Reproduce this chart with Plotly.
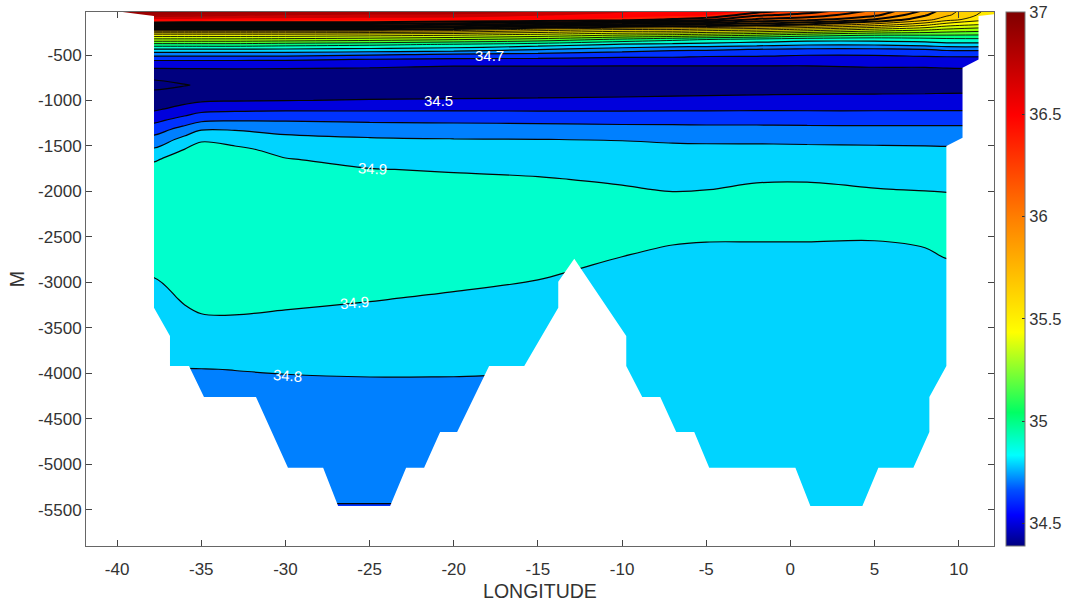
import plotly.graph_objects as go

FONT = "Liberation Sans"

longitudes = [-40.3, -37.8, -36, -35, -33, -30, -25, -20, -15, -10, -7, -5, -2, 1, 5, 8, 9.3, 12.2]
depths = [0, -60, -110, -165, -220, -275, -330, -385, -440, -495, -550, -604, -659, -775, -830, -885,
          -999, -1099, -1219, -1319, -1429, -1539, -1648, -1758, -1868, -1978, -2088, -2198, -2528,
          -2857, -3187, -3517, -3846, -3956, -4066, -5429, -5479]

# salinity, one row per depth
salinity = [
    [37.0, 37.0, 36.95, 36.9, 36.85, 36.8, 36.75, 36.75, 36.65, 36.55, 36.5, 36.45, 36.4, 36.3, 36.1, 35.9, 35.75, 35.55],
    [36.713, 36.713, 36.687, 36.661, 36.635, 36.609, 36.583, 36.575, 36.519, 36.463, 36.435, 36.413, 36.224, 36.157, 36.027, 35.812, 35.718, 35.524],
    [36.478, 36.478, 36.472, 36.465, 36.459, 36.452, 36.446, 36.432, 36.412, 36.36, 36.28, 36.233, 36.08, 36.039, 35.893, 35.74, 35.64, 35.502],
    [36.167, 36.167, 36.167, 36.167, 36.167, 36.167, 36.167, 36.109, 36.04, 35.963, 35.91, 35.9, 35.85, 35.79, 35.667, 35.533, 35.45, 35.378],
    [35.813, 35.813, 35.813, 35.813, 35.813, 35.813, 35.813, 35.767, 35.667, 35.6, 35.6, 35.567, 35.533, 35.471, 35.375, 35.32, 35.283, 35.243],
    [35.479, 35.479, 35.479, 35.479, 35.479, 35.478, 35.457, 35.432, 35.386, 35.325, 35.306, 35.278, 35.235, 35.176, 35.125, 35.12, 35.117, 35.108],
    [35.271, 35.271, 35.271, 35.271, 35.271, 35.261, 35.239, 35.205, 35.159, 35.075, 35.028, 35.0, 34.971, 34.943, 34.938, 34.956, 34.97, 34.978],
    [35.062, 35.062, 35.062, 35.062, 35.062, 35.043, 35.022, 34.987, 34.95, 34.887, 34.871, 34.857, 34.837, 34.812, 34.812, 34.837, 34.862, 34.862],
    [34.883, 34.883, 34.883, 34.883, 34.883, 34.883, 34.867, 34.85, 34.8, 34.75, 34.717, 34.714, 34.693, 34.679, 34.679, 34.693, 34.717, 34.717],
    [34.737, 34.737, 34.737, 34.737, 34.737, 34.737, 34.714, 34.688, 34.67, 34.642, 34.636, 34.625, 34.621, 34.607, 34.607, 34.621, 34.625, 34.625],
    [34.613, 34.613, 34.613, 34.613, 34.613, 34.613, 34.593, 34.579, 34.579, 34.569, 34.569, 34.561, 34.561, 34.555, 34.559, 34.565, 34.568, 34.571],
    [34.544, 34.544, 34.544, 34.544, 34.544, 34.536, 34.521, 34.507, 34.507, 34.506, 34.506, 34.506, 34.506, 34.505, 34.514, 34.515, 34.523, 34.529],
    [34.487, 34.487, 34.491, 34.492, 34.494, 34.492, 34.489, 34.486, 34.486, 34.486, 34.486, 34.486, 34.486, 34.486, 34.489, 34.489, 34.492, 34.495],
    [34.4, 34.4, 34.426, 34.436, 34.451, 34.457, 34.456, 34.455, 34.455, 34.455, 34.455, 34.455, 34.455, 34.455, 34.456, 34.456, 34.457, 34.458],
    [34.37, 34.37, 34.395, 34.41, 34.43, 34.44, 34.44, 34.44, 34.44, 34.44, 34.44, 34.44, 34.44, 34.44, 34.44, 34.44, 34.44, 34.44],
    [34.4, 34.4, 34.42, 34.435, 34.451, 34.459, 34.46, 34.461, 34.461, 34.463, 34.465, 34.467, 34.47, 34.473, 34.475, 34.477, 34.48, 34.483],
    [34.447, 34.447, 34.472, 34.487, 34.493, 34.498, 34.504, 34.508, 34.512, 34.518, 34.524, 34.529, 34.534, 34.538, 34.539, 34.541, 34.543, 34.544],
    [34.489, 34.489, 34.535, 34.568, 34.579, 34.585, 34.586, 34.587, 34.587, 34.588, 34.589, 34.59, 34.591, 34.591, 34.591, 34.592, 34.592, 34.592],
    [34.576, 34.576, 34.644, 34.683, 34.694, 34.694, 34.685, 34.682, 34.678, 34.672, 34.672, 34.67, 34.67, 34.667, 34.667, 34.667, 34.667, 34.667],
    [34.654, 34.654, 34.739, 34.794, 34.794, 34.771, 34.754, 34.745, 34.741, 34.734, 34.732, 34.729, 34.729, 34.726, 34.725, 34.724, 34.724, 34.724],
    [34.735, 34.735, 34.832, 34.879, 34.859, 34.827, 34.811, 34.804, 34.801, 34.797, 34.791, 34.788, 34.786, 34.783, 34.781, 34.778, 34.776, 34.776],
    [34.811, 34.811, 34.901, 34.963, 34.922, 34.869, 34.842, 34.834, 34.828, 34.821, 34.816, 34.816, 34.818, 34.817, 34.814, 34.812, 34.811, 34.811],
    [34.895, 34.895, 34.921, 34.96, 34.927, 34.905, 34.873, 34.863, 34.855, 34.843, 34.836, 34.836, 34.842, 34.842, 34.836, 34.833, 34.832, 34.832],
    [34.915, 34.915, 34.941, 34.96, 34.947, 34.925, 34.903, 34.893, 34.882, 34.866, 34.855, 34.857, 34.865, 34.867, 34.858, 34.854, 34.852, 34.852],
    [34.935, 34.935, 34.96, 34.96, 34.96, 34.945, 34.923, 34.915, 34.907, 34.888, 34.874, 34.877, 34.889, 34.891, 34.879, 34.874, 34.872, 34.872],
    [34.955, 34.955, 34.961, 34.961, 34.961, 34.96, 34.943, 34.935, 34.927, 34.909, 34.893, 34.897, 34.92, 34.923, 34.903, 34.895, 34.893, 34.893],
    [34.961, 34.961, 34.962, 34.962, 34.962, 34.961, 34.96, 34.955, 34.947, 34.929, 34.925, 34.952, 34.957, 34.958, 34.958, 34.931, 34.917, 34.917],
    [34.963, 34.963, 34.962, 34.962, 34.962, 34.962, 34.961, 34.961, 34.961, 34.949, 34.965, 34.964, 34.963, 34.962, 34.964, 34.966, 34.942, 34.942],
    [34.964, 34.964, 34.965, 34.964, 34.964, 34.964, 34.964, 34.965, 34.967, 34.929, 34.908, 34.904, 34.904, 34.904, 34.902, 34.912, 34.932, 34.932],
    [34.914, 34.914, 34.959, 34.966, 34.966, 34.967, 34.954, 34.938, 34.918, 34.879, 34.865, 34.859, 34.857, 34.856, 34.857, 34.869, 34.882, 34.882],
    [34.864, 34.864, 34.909, 34.924, 34.926, 34.918, 34.904, 34.887, 34.867, 34.833, 34.832, 34.832, 34.832, 34.832, 34.832, 34.833, 34.833, 34.833],
    [34.826, 34.826, 34.859, 34.874, 34.876, 34.867, 34.854, 34.837, 34.828, 34.831, 34.831, 34.831, 34.831, 34.831, 34.83, 34.831, 34.831, 34.831],
    [34.806, 34.806, 34.812, 34.82, 34.823, 34.82, 34.817, 34.813, 34.81, 34.829, 34.829, 34.829, 34.829, 34.829, 34.829, 34.829, 34.829, 34.829],
    [34.799, 34.799, 34.799, 34.799, 34.801, 34.805, 34.807, 34.806, 34.804, 34.829, 34.828, 34.828, 34.828, 34.828, 34.828, 34.829, 34.829, 34.829],
    [34.792, 34.792, 34.792, 34.791, 34.793, 34.795, 34.798, 34.798, 34.798, 34.828, 34.828, 34.828, 34.828, 34.828, 34.828, 34.828, 34.828, 34.828],
    [34.701, 34.701, 34.701, 34.701, 34.701, 34.701, 34.701, 34.701, 34.701, 34.82, 34.82, 34.82, 34.82, 34.82, 34.82, 34.82, 34.82, 34.82],
    [34.69, 34.69, 34.69, 34.69, 34.69, 34.69, 34.69, 34.69, 34.69, 34.82, 34.82, 34.82, 34.82, 34.82, 34.82, 34.82, 34.82, 34.82],
]

# outline of the land and sea floor, left to right
floor_lon = [-42, -39.95, -38.76, -37.81, -37.81, -36.86, -36.86, -35.73, -34.84, -31.75, -29.85, -27.76, -26.87,
             -23.78, -22.83, -21.76, -20.81, -19.8, -17.9, -15.81, -13.79, -13.79, -12.84, -9.75, -9.75, -8.8,
             -7.73, -6.78, -5.71, -4.82, 0.3, 1.19, 4.28, 5.23, 7.31, 8.26, 8.26, 9.27, 9.27, 10.23, 10.23, 11.18,
             11.18, 12.13, 12.3, 12.3, -42]
floor_depth = [-20, -20, -50, -70, -3280, -3590, -3920, -3920, -4260, -4260, -5040, -5040, -5460,
               -5460, -5040, -5040, -4645, -4645, -3920, -3920, -3280, -2995, -2740, -3590, -3920, -4260,
               -4260, -4645, -4645, -5040, -5040, -5460, -5460, -5040, -5040, -4645, -4260, -3920, -1500, -1410, -640, -550,
               -70, -50, -20, -6000, -6000]

lon_ticks = [-40, -35, -30, -25, -20, -15, -10, -5, 0, 5, 10]
lon_labels = ["-40", "-35", "-30", "-25", "-20", "-15", "-10", "-5", "0", "5", "10"]
depth_ticks = [-500, -1000, -1500, -2000, -2500, -3000, -3500, -4000, -4500, -5000, -5500]
depth_labels = ["-500", "-1000", "-1500", "-2000", "-2500", "-3000", "-3500", "-4000", "-4500", "-5000", "-5500"]
cbar_ticks = [34.5, 35, 35.5, 36, 36.5, 37]
cbar_labels = ["34.5", "35", "35.5", "36", "36.5", "37"]
cbar_range = [34.39, 37.0]

label_text = ["34.7", "34.5", "34.9", "34.9", "34.8"]
label_lon = [-17.9, -20.9, -24.8, -25.9, -29.85]
label_depth = [-500, -995, -1753, -3225, -4030]
label_angle = [0, 0, 3, -5, 4]

level_start, level_end, level_size = 34.4, 37.0, 0.1
# (first level, last level, line width): thin in the olive band, heavy where levels crowd under the surface
line_groups = [(34.4, 34.9, 1.2), (35.0, 35.7, 0.9), (35.8, 36.3, 2.0)]

colour_at = [34.35, 34.45, 34.55, 34.65, 34.75, 34.85, 34.95, 35.05, 35.2, 35.45, 36.0, 36.45, 36.6, 37.05]
colour_hex = ["#00007f", "#00007f", "#0000dc", "#0032ff", "#0080ff", "#00d4ff", "#00ffcc", "#00ff80",
              "#80ff00", "#ffff00", "#ff8000", "#ff0000", "#b00000", "#800000"]
colorscale = [[(v - colour_at[0]) / (colour_at[-1] - colour_at[0]), c] for v, c in zip(colour_at, colour_hex)]

# the colour bar runs smoothly in the reference
bar_scale = [[0, "#000080"], [0.058, "#0000ff"], [0.105, "#0050ff"], [0.17, "#00ffff"], [0.25, "#00ff64"],
             [0.4, "#ffff00"], [0.613, "#ff8000"], [0.807, "#ff0000"], [1, "#800000"]]

fig = go.Figure()
fig.add_trace(go.Contour(
    x=longitudes, y=depths, z=salinity, autocontour=False, showscale=False,
    contours=dict(start=level_start, end=level_end, size=level_size, coloring="fill", showlines=False),
    colorscale=colorscale, line_width=0,
))
for first, last, width in line_groups:
    fig.add_trace(go.Contour(
        x=longitudes, y=depths, z=salinity, autocontour=False, showscale=False,
        contours=dict(start=first, end=last, size=level_size, coloring="none"),
        line=dict(color="#050505", width=width),
    ))
fig.add_trace(go.Scatter(
    x=floor_lon, y=floor_depth, mode="lines", fill="toself", fillcolor="white",
    line=dict(color="white", width=0), hoverinfo="skip", showlegend=False,
))
fig.add_trace(go.Scatter(
    x=[None, None], y=[None, None], mode="markers", hoverinfo="skip", showlegend=False,
    marker=dict(
        color=cbar_range, cmin=cbar_range[0], cmax=cbar_range[1], colorscale=bar_scale, showscale=True,
        colorbar=dict(
            xref="container", x=0.94195, xanchor="left", xpad=0, y=0, yanchor="bottom", len=1, ypad=0, thickness=19,
            tickvals=cbar_ticks, ticktext=cbar_labels, ticks="inside", ticklen=3, tickcolor="#333",
            ticklabeloverflow="allow",
            outlinecolor="#777", outlinewidth=1, tickfont=dict(family=FONT, size=16.5, color="#333"),
        ),
    ),
))

for text, lon, depth, angle in zip(label_text, label_lon, label_depth, label_angle):
    fig.add_annotation(x=lon, y=depth, text=text, showarrow=False, textangle=angle,
                       font=dict(family=FONT, size=15, color="white"))

axis_style = dict(
    showgrid=False, zeroline=False, showline=True, linecolor="#666", linewidth=1, mirror="ticks", automargin=False,
    ticks="inside", ticklen=6, tickcolor="#444", tickfont=dict(family=FONT, size=17, color="#333"),
)
fig.update_layout(
    width=1068, height=603, margin=dict(l=86, r=74, t=12, b=57),
    paper_bgcolor="white", plot_bgcolor="white", showlegend=False,
    font=dict(family=FONT, color="#333"),
    xaxis=dict(range=[-41.85, 12.1], tickvals=lon_ticks, ticktext=lon_labels, ticklabelstandoff=8,
               title=dict(text="LONGITUDE", font=dict(family=FONT, size=19.5, color="#333"), standoff=5), **axis_style),
    yaxis=dict(range=[-5900, -27], tickvals=depth_ticks, ticktext=depth_labels,
               title=dict(text="M", font=dict(family=FONT, size=19.5, color="#333"), standoff=8), **axis_style),
)

# drop the page's default body margin so the figure fills the window
fig.write_html("out.html", config={"displayModeBar": False}, post_script="document.body.style.margin = '0';")
